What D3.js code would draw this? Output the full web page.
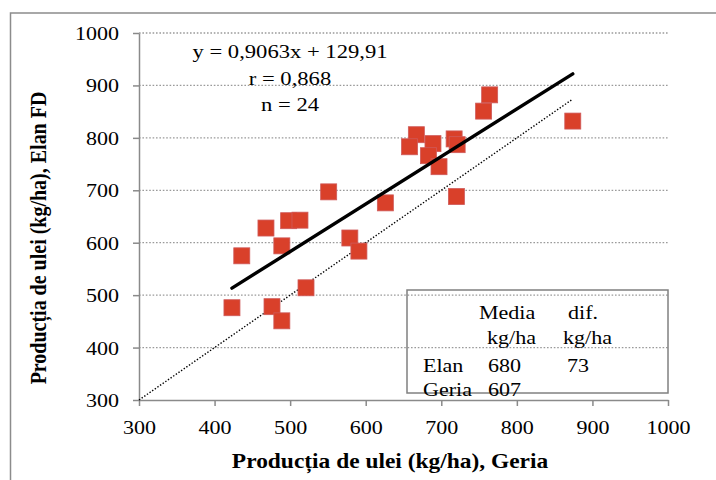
<!DOCTYPE html>
<html>
<head>
<meta charset="utf-8">
<script src="https://cdn.jsdelivr.net/npm/d3@7/dist/d3.min.js"></script>
<style>
  html, body { margin: 0; padding: 0; background: #fff; }
  svg { display: block; }
</style>
</head>
<body>
<svg id="chart" width="716" height="480"></svg>
<script>
// ---- data ----
const geria = [423, 436, 468, 498, 513, 489, 476, 489, 521, 579, 591, 626, 551,
               764, 756, 667, 658, 689, 683, 697, 717, 721, 720, 874];
const elan  = [476, 575, 628, 642, 643, 594, 478, 451, 514, 609, 584, 676, 697,
               882, 851, 806, 783, 789, 766, 745, 798, 787, 688, 832];
const xTicks = [300, 400, 500, 600, 700, 800, 900, 1000];
const yTicks = [300, 400, 500, 600, 700, 800, 900, 1000];
const slope = 0.9063, intercept = 129.91;
const eqLines = ["y = 0,9063x + 129,91", "r = 0,868", "n = 24"];
const tableRows = [
  ["", "Media", "dif."],
  ["", "kg/ha", "kg/ha"],
  ["Elan", "680", "73"],
  ["Geria", "607", ""]
];
const xTitle = "Producția de ulei (kg/ha), Geria";
const yTitle = "Producția de ulei (kg/ha),  Elan FD";

// ---- layout ----
const SX = 1.16;           // horizontal text stretch of the original
const FONT = "'Liberation Serif', 'Times New Roman', serif";
const svg = d3.select("#chart");
const x = d3.scaleLinear().domain([300, 1000]).range([139, 668]);
const y = d3.scaleLinear().domain([300, 1000]).range([400, 33]);

// outer frame
svg.append("rect").attr("x", 10.5).attr("y", 13).attr("width", 720).attr("height", 480)
  .attr("fill", "none").attr("stroke", "#8c8c8c").attr("stroke-width", 1.5);

// gridlines
svg.append("g").selectAll("line").data(yTicks.filter(d => d > 300)).join("line")
  .attr("x1", x(300)).attr("x2", x(1000))
  .attr("y1", d => y(d)).attr("y2", d => y(d))
  .attr("stroke", "#9a9a9a").attr("stroke-width", 1.3)
  .attr("stroke-dasharray", "1.6,1.8");

// axes
const fmt = d3.format("d");
const xAxis = svg.append("g").attr("transform", `translate(0,${y(300)})`)
  .call(d3.axisBottom(x).tickValues(xTicks).tickFormat(fmt).tickSize(6).tickSizeOuter(0).tickPadding(0));
const yAxis = svg.append("g").attr("transform", `translate(${x(300)},0)`)
  .call(d3.axisLeft(y).tickValues(yTicks).tickFormat(fmt).tickSize(6).tickSizeOuter(0).tickPadding(0));
[xAxis, yAxis].forEach(a => {
  a.attr("font-family", FONT);
  a.select(".domain").attr("stroke", "#8a8a8a").attr("stroke-width", 1.5);
  a.selectAll(".tick line").attr("stroke", "#8a8a8a").attr("stroke-width", 1.5);
  a.selectAll(".tick text").attr("fill", "#000")
    .style("font-family", FONT).style("font-size", "19px");
});
xAxis.selectAll(".tick text").attr("dy", null).attr("y", 34)
  .attr("transform", `scale(${SX},1)`);
yAxis.selectAll(".tick text").attr("dy", "0.34em").attr("x", -20 / SX)
  .attr("transform", `scale(${SX},1)`);

// 1:1 dotted line
const xMax = d3.max(geria), xMin = d3.min(geria);
svg.append("line")
  .attr("x1", x(300)).attr("y1", y(300)).attr("x2", x(xMax)).attr("y2", y(xMax))
  .attr("stroke", "#000").attr("stroke-width", 1.4).attr("stroke-dasharray", "1.4,1.8");

// points
svg.append("g").selectAll("rect").data(geria.map((g, i) => [g, elan[i]])).join("rect")
  .attr("x", d => x(d[0]) - 8).attr("y", d => y(d[1]) - 8)
  .attr("width", 16).attr("height", 16)
  .attr("fill", "#d9402a").attr("stroke", "#cf5a5a").attr("stroke-width", 0.8);

// regression line
svg.append("line")
  .attr("x1", x(xMin)).attr("y1", y(slope * xMin + intercept))
  .attr("x2", x(xMax)).attr("y2", y(slope * xMax + intercept))
  .attr("stroke", "#000").attr("stroke-width", 3.4).attr("stroke-linecap", "round");

// stretched text helper
function stext(tx, ty, str, opts = {}) {
  return svg.append("text")
    .attr("transform", `translate(${tx},${ty}) scale(${SX},1)` + (opts.rotate ? ` rotate(${opts.rotate})` : ""))
    .attr("text-anchor", opts.anchor || "start")
    .style("font-family", FONT)
    .style("font-size", (opts.size || 19) + "px")
    .style("font-weight", opts.bold ? "bold" : "normal")
    .attr("fill", "#000")
    .text(str);
}

// equation annotation
const eqY = [58, 85, 111];
eqLines.forEach((t, i) => stext(290, eqY[i], t, { anchor: "middle", size: 19.5 }));

// table box
svg.append("rect").attr("x", 407).attr("y", 290).attr("width", 261).attr("height", 103)
  .attr("fill", "none").attr("stroke", "#808080").attr("stroke-width", 1.5);
const rowY = [319, 344, 372, 396];
const colX = [[423, 479, 568], [423, 487, 563], [423, 488, 567], [423, 488, 567]];
tableRows.forEach((row, r) => row.forEach((t, c) => {
  if (t) stext(colX[r][c], rowY[r], t, { size: 19 });
}));

// axis titles
stext(390, 468, xTitle, { anchor: "middle", bold: true, size: 20.2 });
stext(46, 238, yTitle, { anchor: "middle", bold: true, size: 20, rotate: -90 });
</script>
</body>
</html>
